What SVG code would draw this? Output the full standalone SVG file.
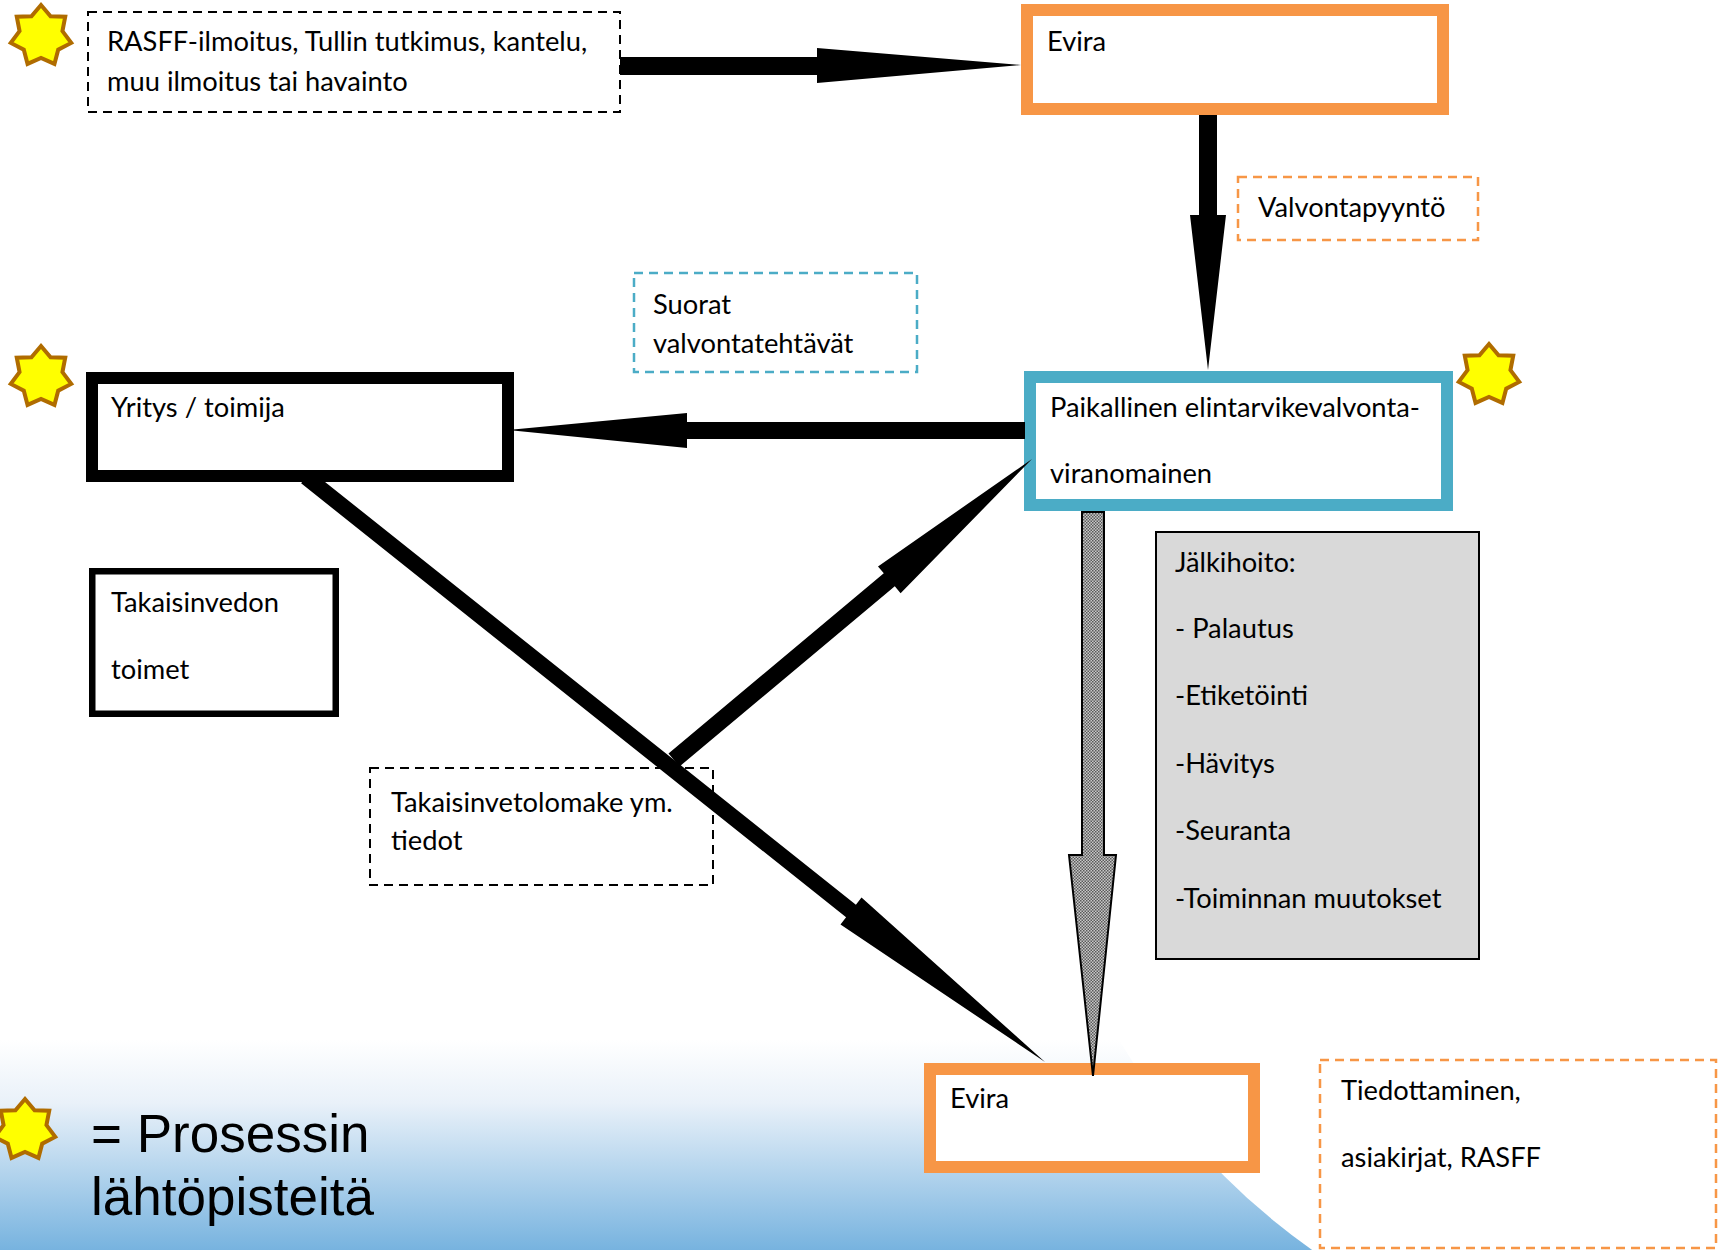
<svg xmlns="http://www.w3.org/2000/svg" width="1719" height="1250" viewBox="0 0 1719 1250">
<style>
.t{font-family:Lato,"Open Sans","Liberation Sans",sans-serif;font-size:27.3px;fill:#000}
.big{font-family:"Liberation Sans",Arial,sans-serif;font-size:53px;fill:#000}
.dk{fill:#fff;stroke:#000;stroke-width:2;stroke-dasharray:9 6}
.dor{fill:#fff;stroke:#F79646;stroke-width:2.5;stroke-dasharray:9 6}
.dbl{fill:#fff;stroke:#4BACC6;stroke-width:2.5;stroke-dasharray:9 6}
.or{fill:#fff;stroke:#F79646;stroke-width:12}
.bl{fill:#fff;stroke:#4BACC6;stroke-width:12}
.bk{fill:#fff;stroke:#000}
.arr{fill:#000;stroke:none}
</style>
<defs>
<linearGradient id="bg" x1="0" y1="0" x2="0" y2="1">
<stop offset="0" stop-color="#ffffff"/>
<stop offset="0.3" stop-color="#e9f1f9"/>
<stop offset="1" stop-color="#77b3df"/>
</linearGradient>
<pattern id="dots" width="3" height="3" patternUnits="userSpaceOnUse">
<rect width="3" height="3" fill="#c8c8c8"/>
<rect width="1.5" height="1.5" fill="#5a5a5a"/>
<rect x="1.5" y="1.5" width="1.5" height="1.5" fill="#5a5a5a"/>
</pattern>
<polygon id="star" points="0,-31 9.55,-19.82 24.24,-19.33 21.45,-4.9 30.22,6.9 17.2,13.72 13.45,27.93 0,22 -13.45,27.93 -17.2,13.72 -30.22,6.9 -21.45,-4.9 -24.24,-19.33 -9.55,-19.82" fill="#ffff00" stroke="#b06c00" stroke-width="4" stroke-linejoin="miter"/>
</defs>
<rect width="1719" height="1250" fill="#fff"/>
<rect x="0" y="1040" width="1719" height="210" fill="url(#bg)"/>
<circle cx="1700" cy="700" r="673" fill="#fff"/>

<g id="star1"><use href="#star" x="41" y="36"/></g>
<g id="star2"><use href="#star" x="41" y="377"/></g>
<g id="star3"><use href="#star" x="1489" y="375"/></g>
<g id="star4"><use href="#star" x="25" y="1130"/></g>

<g id="rasff">
<rect class="dk" x="88" y="12" width="532" height="100"/>
<text class="t" x="107" y="51">RASFF-ilmoitus, Tullin tutkimus, kantelu,</text>
<text class="t" x="107" y="91">muu ilmoitus tai havainto</text>
</g>
<g id="evira1">
<rect class="or" x="1027" y="10" width="416" height="99"/>
<text class="t" x="1047" y="51">Evira</text>
</g>
<g id="valvontapyynto">
<rect class="dor" x="1238" y="177" width="240" height="63"/>
<text class="t" x="1258" y="217">Valvontapyyntö</text>
</g>
<g id="suorat">
<rect class="dbl" x="634" y="273" width="283" height="99"/>
<text class="t" x="653" y="314">Suorat</text>
<text class="t" x="653" y="353">valvontatehtävät</text>
</g>
<g id="paikallinen">
<rect class="bl" x="1030" y="377" width="417" height="128"/>
<text class="t" x="1050" y="417">Paikallinen elintarvikevalvonta-</text>
<text class="t" x="1050" y="483">viranomainen</text>
</g>
<g id="yritys">
<rect class="bk" stroke-width="12" x="92" y="378" width="416" height="98"/>
<text class="t" x="111" y="417">Yritys / toimija</text>
</g>
<g id="takaisinvedon">
<rect class="bk" stroke-width="6.5" x="92.25" y="571.25" width="243.5" height="142.5"/>
<text class="t" x="111" y="612">Takaisinvedon</text>
<text class="t" x="111" y="679">toimet</text>
</g>
<g id="jalkihoito">
<rect x="1156" y="532" width="323" height="427" fill="#d9d9d9" stroke="#000" stroke-width="2"/>
<text class="t" x="1175" y="572">Jälkihoito:</text>
<text class="t" x="1175" y="638">- Palautus</text>
<text class="t" x="1175" y="705">-Etiketöinti</text>
<text class="t" x="1175" y="773">-Hävitys</text>
<text class="t" x="1175" y="840">-Seuranta</text>
<text class="t" x="1175" y="908">-Toiminnan muutokset</text>
</g>
<g id="takaisinvetolomake">
<rect class="dk" x="370" y="768" width="343" height="117"/>
<text class="t" x="391" y="812">Takaisinvetolomake ym.</text>
<text class="t" x="391" y="850">tiedot</text>
</g>
<g id="evira2">
<rect class="or" x="930" y="1069" width="324" height="98"/>
<text class="t" x="950" y="1108">Evira</text>
</g>
<g id="tiedottaminen">
<rect class="dor" x="1320" y="1060" width="396" height="188"/>
<text class="t" x="1341" y="1100">Tiedottaminen,</text>
<text class="t" x="1341" y="1167">asiakirjat, RASFF</text>
</g>
<g id="legend">
<text class="big" x="91" y="1152">= Prosessin</text>
<text class="big" x="91" y="1215">lähtöpisteitä</text>
</g>

<g id="connectors">
<polygon class="arr" points="620,57 817,57 817,48 1021,65 817,83 817,75 620,75"/>
<polygon class="arr" points="1199,115 1217,115 1217,215 1226,215 1208,370 1190,215 1199,215"/>
<polygon class="arr" points="1025,422 687,422 687,413 508,430 687,448 687,439 1025,439"/>
<polygon class="arr" points="301.1,483.3 310.9,470.7 855.9,904.7 861.5,897.6 1045,1062 840.5,924.4 846.1,917.3"/>
<polygon class="arr" points="668.5,753.5 883.8,573.3 878,566.4 1032,459 900.6,593.2 894.8,586.3 679.5,766.5"/>
<polygon points="1082,512 1104,512 1104,855 1116,855 1093,1076 1069,855 1082,855" fill="url(#dots)" stroke="#000" stroke-width="2"/>
</g>
</svg>
